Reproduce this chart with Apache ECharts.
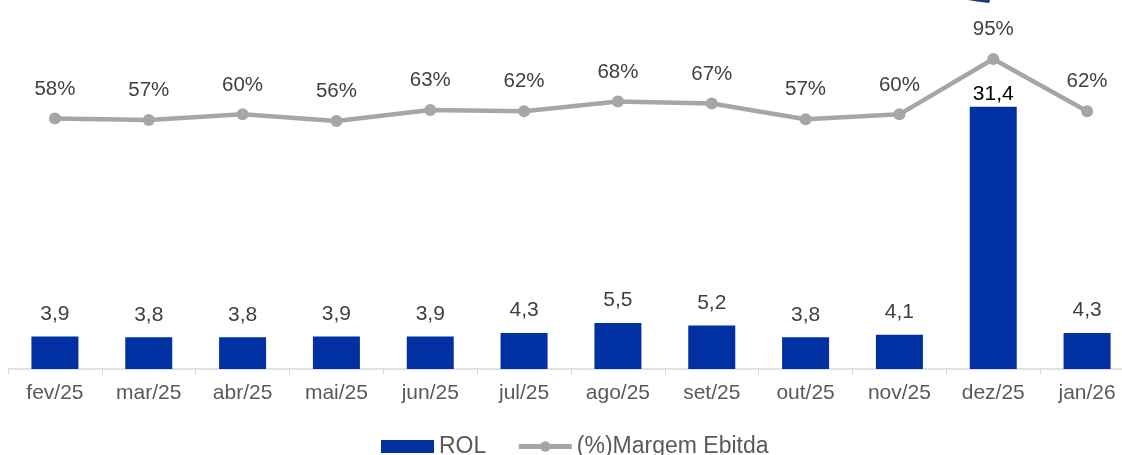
<!DOCTYPE html>
<html>
<head>
<meta charset="utf-8">
<script src="https://cdn.jsdelivr.net/npm/echarts@6/dist/echarts.min.js"></script>
<style>
  html, body { margin: 0; padding: 0; background: #fff; }
  #main { width: 1122px; height: 455px; }
</style>
</head>
<body>
<div id="main"></div>
<script>
// dados do gráfico
var meses = ['fev/25', 'mar/25', 'abr/25', 'mai/25', 'jun/25', 'jul/25', 'ago/25', 'set/25', 'out/25', 'nov/25', 'dez/25', 'jan/26'];
var rol = [3.9, 3.8, 3.8, 3.9, 3.9, 4.3, 5.5, 5.2, 3.8, 4.1, 31.4, 4.3];
var margemEbitda = [57.8, 56.9, 60.4, 56.3, 63.1, 62.4, 68.4, 67.2, 57.4, 60.4, 95, 62.4];

var fonte = '"Liberation Sans", Arial, sans-serif';
var myChart = echarts.init(document.getElementById('main'));

// barra de dez/25 tem o rótulo mais perto e em preto
var rolData = rol.map(function (v, i) {
    if (v > 20) {
        return { value: v, label: { distance: 2, color: '#000' } };
    }
    return v;
});

var option = {
    animation: false,
    textStyle: { fontFamily: fonte },
    grid: { left: 8, width: 1126, top: 35, bottom: 86, outerBoundsMode: 'none', containLabel: false },
    legend: {
        left: 376,
        top: 430,
        itemWidth: 53,
        itemHeight: 13,
        itemGap: 30,
        textStyle: { fontSize: 23, color: '#595959', fontFamily: fonte },
        data: [
            { name: 'ROL', icon: 'rect' },
            {
                name: '(%)Margem Ebitda',
                lineStyle: { width: 5, color: '#A6A6A6' },
                itemStyle: { color: '#A6A6A6' }
            }
        ]
    },
    xAxis: {
        type: 'category',
        data: meses,
        boundaryGap: true,
        axisLine: { lineStyle: { color: '#D9D9D9', width: 1.5 } },
        axisTick: { show: true, length: 6, lineStyle: { color: '#D9D9D9' } },
        axisLabel: { fontSize: 21, color: '#595959', margin: 14, fontFamily: fonte }
    },
    yAxis: [
        { type: 'value', min: 0, max: 40, show: false, splitLine: { show: false } },
        { type: 'value', min: -98.75, max: 110, show: false, splitLine: { show: false } }
    ],
    series: [
        {
            name: 'ROL',
            type: 'bar',
            yAxisIndex: 0,
            barWidth: 47,
            itemStyle: { color: '#0030A1' },
            label: {
                show: true,
                position: 'top',
                distance: 12,
                fontSize: 21,
                color: '#404040',
                fontFamily: fonte,
                formatter: function (p) { return p.value.toFixed(1).replace('.', ','); }
            },
            data: rolData
        },
        {
            name: '(%)Margem Ebitda',
            type: 'line',
            yAxisIndex: 1,
            symbol: 'circle',
            symbolSize: 12,
            lineStyle: { color: '#A6A6A6', width: 4.5 },
            itemStyle: { color: '#A6A6A6' },
            label: {
                show: true,
                position: 'top',
                distance: 13,
                fontSize: 20.5,
                color: '#404040',
                fontFamily: fonte,
                formatter: function (p) { return Math.round(p.value) + '%'; }
            },
            z: 3,
            data: margemEbitda
        }
    ],
    graphic: [
        {
            // pedaço cortado de uma seta no topo
            type: 'polygon',
            shape: { points: [[968, 0], [990, 0], [989, 3], [977, 1.5]] },
            style: { fill: '#1F3A78' }
        }
    ]
};

myChart.setOption(option);
</script>
</body>
</html>
